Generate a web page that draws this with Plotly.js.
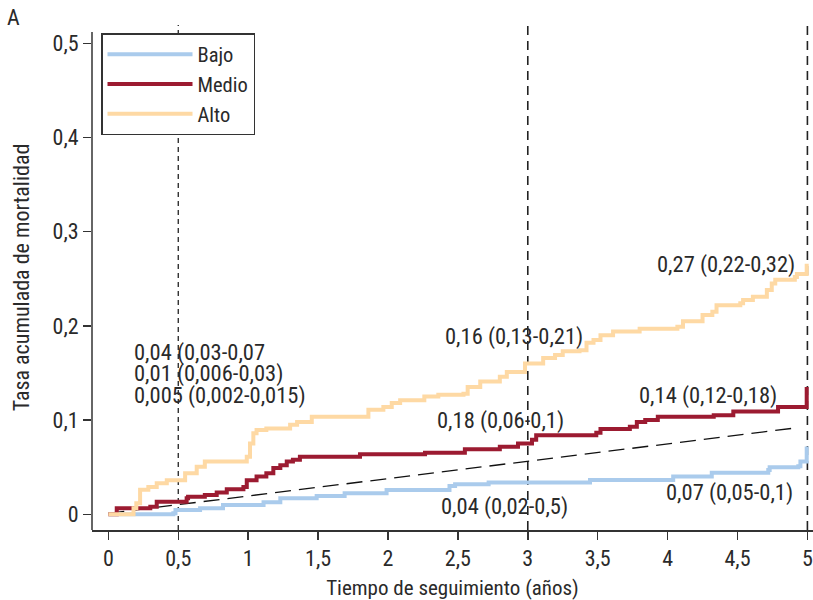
<!DOCTYPE html>
<html>
<head>
<meta charset="utf-8">
<script src="https://cdn.plot.ly/plotly-3.0.1.min.js"></script>
<style>html,body{margin:0;padding:0;background:#fff;}#chart{width:813px;height:600px;}</style>
</head>
<body>
<div id="chart"></div>
<script>
// Data
const seriesNames = ["Bajo", "Medio", "Alto"];
const bajoX = [0, 0.465, 0.48, 0.656, 0.82, 1.11, 1.23, 1.49, 1.69, 1.99, 2.44, 2.48, 2.72, 3.445, 4.04, 4.316, 4.72, 4.73, 4.935, 4.95, 4.995];
const bajoY = [0, 0.001, 0.0046, 0.0064, 0.0099, 0.0127, 0.017, 0.0194, 0.0223, 0.0258, 0.030, 0.032, 0.0336, 0.0364, 0.040, 0.044, 0.047, 0.050, 0.051, 0.056, 0.072];
const medioX = [0, 0.06, 0.30, 0.346, 0.56, 0.57, 0.69, 0.775, 0.847, 0.966, 0.99, 1.06, 1.13, 1.18, 1.23, 1.276, 1.32, 1.37, 1.80, 2.265, 2.55, 2.80, 2.93, 3.03, 3.06, 3.49, 3.52, 3.73, 3.78, 3.84, 3.93, 4.33, 4.47, 4.79, 4.995];
const medioY = [0, 0.0064, 0.008, 0.0134, 0.017, 0.0187, 0.0205, 0.023, 0.0265, 0.029, 0.036, 0.040, 0.0435, 0.049, 0.052, 0.056, 0.058, 0.061, 0.0637, 0.0654, 0.069, 0.0718, 0.075, 0.079, 0.084, 0.0866, 0.0905, 0.093, 0.098, 0.100, 0.1036, 0.105, 0.109, 0.114, 0.135];
const altoX = [0, 0.18, 0.20, 0.227, 0.286, 0.346, 0.418, 0.549, 0.632, 0.69, 0.99, 1.013, 1.037, 1.06, 1.13, 1.30, 1.35, 1.455, 1.86, 1.967, 2.027, 2.087, 2.26, 2.36, 2.54, 2.57, 2.66, 2.80, 2.85, 2.98, 3.11, 3.195, 3.25, 3.37, 3.42, 3.47, 3.52, 3.61, 3.80, 4.07, 4.11, 4.25, 4.32, 4.35, 4.52, 4.54, 4.61, 4.71, 4.745, 4.77, 4.91, 4.925, 4.995];
const altoY = [0, 0.0064, 0.0117, 0.026, 0.029, 0.033, 0.036, 0.0435, 0.0505, 0.056, 0.061, 0.075, 0.086, 0.0895, 0.091, 0.095, 0.098, 0.1036, 0.111, 0.114, 0.118, 0.121, 0.125, 0.127, 0.128, 0.135, 0.141, 0.146, 0.151, 0.160, 0.166, 0.169, 0.173, 0.174, 0.182, 0.185, 0.190, 0.194, 0.197, 0.199, 0.205, 0.2116, 0.215, 0.222, 0.224, 0.2275, 0.231, 0.238, 0.245, 0.249, 0.252, 0.255, 0.266];
const refX = [0, 3, 4.935];
const refY = [0.001, 0.056, 0.092];
const markerTimes = [0.5, 3, 5];
const xTickVals = [0, 0.5, 1, 1.5, 2, 2.5, 3, 3.5, 4, 4.5, 5];
const xTickText = ["0", "0,5", "1", "1,5", "2", "2,5", "3", "3,5", "4", "4,5", "5"];
const yTickVals = [0, 0.1, 0.2, 0.3, 0.4, 0.5];
const yTickText = ["0", "0,1", "0,2", "0,3", "0,4", "0,5"];
const labels05 = ["0,04 (0,03-0,07", "0,01 (0,006-0,03)", "0,005 (0,002-0,015)"];
const labels3 = ["0,16 (0,13-0,21)", "0,18 (0,06-0,1)", "0,04 (0,02-0,5)"];
const labels5 = ["0,27 (0,22-0,32)", "0,14 (0,12-0,18)", "0,07 (0,05-0,1)"];

const FONT = '"Liberation Sans Narrow", "Roboto Condensed", "Arial Narrow", "Liberation Sans", sans-serif';
const TXT = '#2a2a2a';
const colors = ['#aacbec', '#9c1b31', '#fed9a4'];

const traces = [
  {x: refX, y: refY, mode: 'lines', showlegend: false, hoverinfo: 'skip',
   line: {color: '#111', width: 1.3, dash: '16px,8px'}},
  {x: bajoX, y: bajoY, name: seriesNames[0], mode: 'lines', line: {color: colors[0], width: 4, shape: 'hv'}},
  {x: medioX, y: medioY, name: seriesNames[1], mode: 'lines', line: {color: colors[1], width: 4, shape: 'hv'}},
  {x: altoX, y: altoY, name: seriesNames[2], mode: 'lines', line: {color: colors[2], width: 4, shape: 'hv'}}
];

const shapes = markerTimes.map((t, i) => ({
  type: 'line', xref: 'x', yref: 'paper', x0: t, x1: t, y0: 0, y1: 1, layer: 'below',
  line: {color: '#222', width: i === 0 ? 1.3 : 1.6, dash: i === 0 ? '5px,4px' : '9px,6px'}
}));
shapes.push({type: 'line', xref: 'paper', yref: 'paper', x0: 0, x1: 0, y0: 0, y1: 0.986,
  line: {color: '#333', width: 1.5}});

function ann(text, x, y) {
  return {text: text, x: x, y: y, xref: 'x', yref: 'y', xanchor: 'left', yanchor: 'middle',
    showarrow: false, borderpad: 0, font: {family: FONT, size: 22.5, color: TXT}};
}
const annotations = [
  ann(labels05[0], 0.175, 0.172), ann(labels05[1], 0.175, 0.149), ann(labels05[2], 0.175, 0.126),
  ann(labels3[0], 2.4, 0.189), ann(labels3[1], 2.34, 0.0994), ann(labels3[2], 2.37, 0.0081),
  ann(labels5[0], 3.915, 0.2647), ann(labels5[1], 3.785, 0.1266), ann(labels5[2], 3.98, 0.0229),
  {text: 'A', xref: 'paper', yref: 'paper', x: (13 - 92) / 721, y: (530 - 18) / 505,
   xanchor: 'center', yanchor: 'middle', showarrow: false, font: {family: FONT, size: 22, color: TXT}}
];

const layout = {
  width: 813, height: 600,
  margin: {l: 92, r: 0, t: 25, b: 70},
  paper_bgcolor: '#fff', plot_bgcolor: '#fff',
  font: {family: FONT, size: 22, color: TXT},
  xaxis: {range: [-0.117, 5.04], tickvals: xTickVals, ticktext: xTickText,
    showline: true, linecolor: '#333', linewidth: 1.5, ticks: 'outside', ticklen: 8, tickwidth: 1.5, tickcolor: '#333',
    showgrid: false, zeroline: false, tickfont: {family: FONT, size: 22, color: TXT},
    title: {text: 'Tiempo de seguimiento (años)', font: {family: FONT, size: 21, color: TXT}, standoff: 12}},
  yaxis: {range: [-0.0167, 0.5194], tickvals: yTickVals, ticktext: yTickText,
    showline: false, ticks: 'outside', ticklen: 8, tickwidth: 1.5, tickcolor: '#333',
    showgrid: false, zeroline: false, tickfont: {family: FONT, size: 22, color: TXT},
    title: {text: 'Tasa acumulada de mortalidad', font: {family: FONT, size: 22, color: TXT}, standoff: 16}},
  legend: {x: (101 - 92) / 721, y: (530 - 33) / 505, xanchor: 'left', yanchor: 'top',
    bgcolor: '#fff', bordercolor: '#333', borderwidth: 1.5, itemwidth: 85,
    font: {family: FONT, size: 20.5, color: TXT}},
  shapes: shapes,
  annotations: annotations
};

Plotly.newPlot('chart', traces, layout, {displayModeBar: false, staticPlot: true});
</script>
</body>
</html>
